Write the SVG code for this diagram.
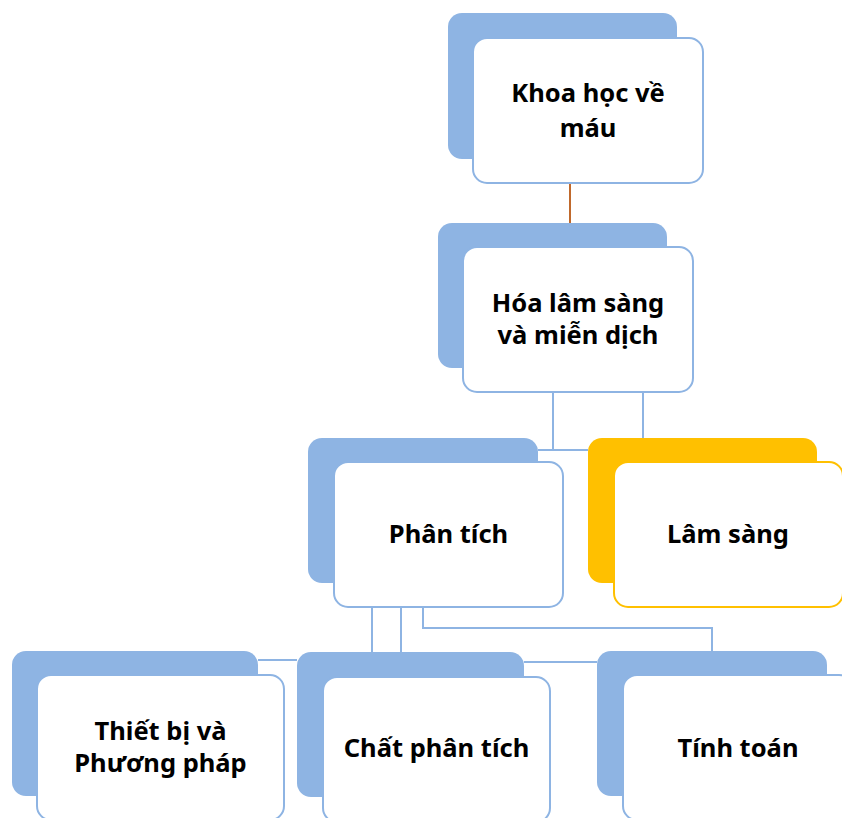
<svg xmlns="http://www.w3.org/2000/svg" width="842" height="818" viewBox="0 0 842 818">
  <style>
    .back { fill: #8EB4E3; }
    .back-y { fill: #FFC000; }
    .front { fill: #FFFFFF; stroke: #8EB4E3; stroke-width: 2; }
    .front-y { fill: #FFFFFF; stroke: #FFC000; stroke-width: 2; }
    .lbl { font-family: "Noto Sans", "Open Sans", sans-serif; font-weight: bold; font-size: 25.5px; fill: #000000; text-anchor: middle; }
    .link { fill: none; stroke: #8EB4E3; stroke-width: 2; }
    .link-top { fill: none; stroke: #C0692C; stroke-width: 2; }
  </style>
  <rect width="842" height="818" fill="#FFFFFF"/>

  <!-- connectors -->
  <g id="connectors">
    <path class="link-top" d="M570 183 V223"/>
    <path class="link" d="M553 392 V450 H538"/>
    <path class="link" d="M553 450 H588"/>
    <path class="link" d="M643 392 V438"/>
    <path class="link" d="M372 607 V652"/>
    <path class="link" d="M401 607 V652"/>
    <path class="link" d="M423 607 V628 H712 V651"/>
    <path class="link" d="M258 660 H297"/>
    <path class="link" d="M524 662 H597"/>
  </g>

  <!-- level 0 -->
  <g id="khoa-hoc-ve-mau">
    <rect class="back" x="448" y="13" width="229" height="146" rx="14"/>
    <rect class="front" x="473" y="38" width="230" height="145" rx="14"/>
    <text class="lbl" x="588" y="102">Khoa học về</text>
    <text class="lbl" x="588" y="137">máu</text>
  </g>

  <!-- level 1 -->
  <g id="hoa-lam-sang">
    <rect class="back" x="438" y="223" width="229" height="145" rx="14"/>
    <rect class="front" x="463" y="247" width="230" height="145" rx="14"/>
    <text class="lbl" x="578" y="312">Hóa lâm sàng</text>
    <text class="lbl" x="578" y="344">và miễn dịch</text>
  </g>

  <!-- level 2 -->
  <g id="phan-tich">
    <rect class="back" x="308" y="438" width="230" height="145" rx="14"/>
    <rect class="front" x="334" y="462" width="229" height="145" rx="14"/>
    <text class="lbl" x="448.5" y="543">Phân tích</text>
  </g>

  <g id="lam-sang">
    <rect class="back-y" x="588" y="438" width="229" height="145" rx="14"/>
    <rect class="front-y" x="614" y="462" width="229" height="145" rx="14"/>
    <text class="lbl" x="728" y="543">Lâm sàng</text>
  </g>

  <!-- level 3 -->
  <g id="thiet-bi">
    <rect class="back" x="12" y="651" width="246" height="145" rx="14"/>
    <rect class="front" x="37" y="675" width="247" height="145" rx="14"/>
    <text class="lbl" x="160.5" y="740">Thiết bị và</text>
    <text class="lbl" x="160.5" y="772">Phương pháp</text>
  </g>

  <g id="chat-phan-tich">
    <rect class="back" x="297" y="652" width="227" height="145" rx="14"/>
    <rect class="front" x="323" y="677" width="227" height="145" rx="14"/>
    <text class="lbl" x="436.5" y="757">Chất phân tích</text>
  </g>

  <g id="tinh-toan">
    <rect class="back" x="597" y="651" width="230" height="145" rx="14"/>
    <rect class="front" x="623" y="675" width="230" height="145" rx="14"/>
    <text class="lbl" x="738" y="757">Tính toán</text>
  </g>
</svg>
